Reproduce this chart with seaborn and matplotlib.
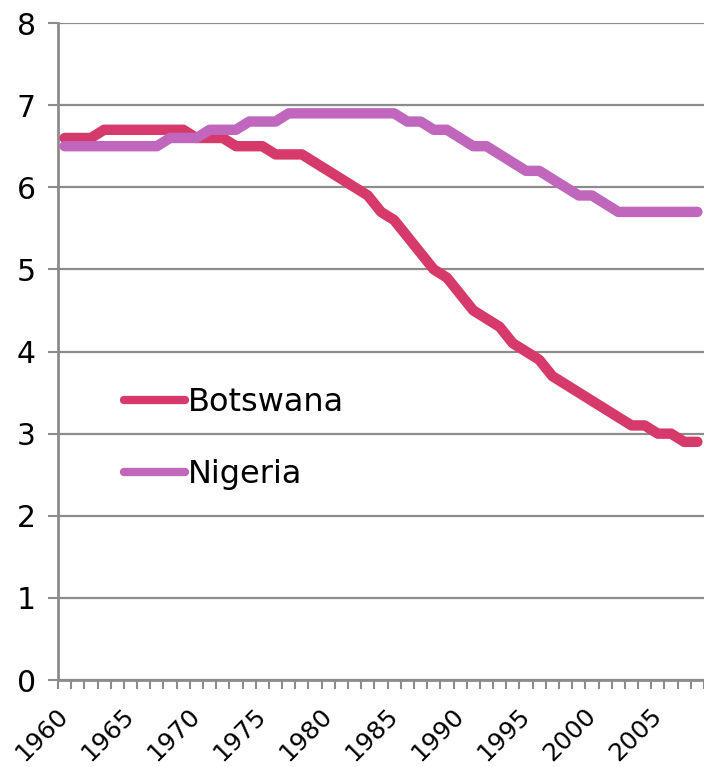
import numpy as np
import pandas as pd
import matplotlib
matplotlib.use("Agg")
import matplotlib.pyplot as plt
import seaborn as sns

# ── DATA ─────────────────────────────────────────────────
years = list(range(1960, 2009))

botswana = [6.6, 6.6, 6.6, 6.7, 6.7, 6.7, 6.7, 6.7, 6.7, 6.7,
            6.6, 6.6, 6.6, 6.5, 6.5, 6.5, 6.4, 6.4, 6.4, 6.3,
            6.2, 6.1, 6.0, 5.9, 5.7, 5.6, 5.4, 5.2, 5.0, 4.9,
            4.7, 4.5, 4.4, 4.3, 4.1, 4.0, 3.9, 3.7, 3.6, 3.5,
            3.4, 3.3, 3.2, 3.1, 3.1, 3.0, 3.0, 2.9, 2.9]

nigeria = [6.5, 6.5, 6.5, 6.5, 6.5, 6.5, 6.5, 6.5, 6.6, 6.6,
           6.6, 6.7, 6.7, 6.7, 6.8, 6.8, 6.8, 6.9, 6.9, 6.9,
           6.9, 6.9, 6.9, 6.9, 6.9, 6.9, 6.8, 6.8, 6.7, 6.7,
           6.6, 6.5, 6.5, 6.4, 6.3, 6.2, 6.2, 6.1, 6.0, 5.9,
           5.9, 5.8, 5.7, 5.7, 5.7, 5.7, 5.7, 5.7, 5.7]

countries = ["Botswana", "Nigeria"]
colors = ["#D63A6A", "#C066BC"]
year_labels = [str(y) for y in range(1960, 2009, 5)]
y_ticks = list(range(0, 9))

df = pd.DataFrame({
    "year": years * 2,
    "value": botswana + nigeria,
    "country": ["Botswana"] * len(years) + ["Nigeria"] * len(years),
})

# ── PLOT ─────────────────────────────────────────────────
sns.set_theme(style="white")
plt.rcParams["font.family"] = ["DejaVu Sans"]
plt.rcParams["text.color"] = "black"
plt.rcParams["xtick.labelcolor"] = "black"
plt.rcParams["ytick.labelcolor"] = "black"

fig = plt.figure(figsize=(7.04, 7.67), dpi=100)
ax = fig.add_axes([0.0824, 0.1134, 0.9176, 0.8566])

sns.lineplot(data=df, x="year", y="value", hue="country",
             hue_order=countries, palette=colors, linewidth=7.5,
             ax=ax, zorder=3)
for line in ax.get_lines():
    line.set_solid_capstyle("round")
    line.set_solid_joinstyle("round")

grid_col = "#8C8C8C"
ax.set_xlim(1959.5, 2008.5)
ax.set_ylim(0, 8)
ax.set_yticks(y_ticks)
ax.set_yticklabels([str(v) for v in y_ticks])
ax.yaxis.grid(True, color=grid_col, linewidth=1.6)
ax.set_axisbelow(True)

ax.set_xticks(range(1960, 2009, 5))
ax.set_xticklabels(year_labels, rotation=45, ha="right", va="center",
                   rotation_mode="anchor")
ax.set_xticks(np.arange(1959.5, 2009, 1), minor=True)
ax.tick_params(axis="x", which="major", length=0, pad=23, labelsize=18)
ax.tick_params(axis="x", which="minor", length=6.5, width=1.5,
               color=grid_col, bottom=True)
ax.tick_params(axis="y", length=7, width=1.5, color=grid_col,
               pad=9, labelsize=21.5, left=True)

for side in ["top", "right"]:
    ax.spines[side].set_visible(False)
for side in ["left", "bottom"]:
    ax.spines[side].set_color(grid_col)
    ax.spines[side].set_linewidth(2)

ax.set_xlabel("")
ax.set_ylabel("")

leg = ax.legend(frameon=False, loc="upper left",
                bbox_to_anchor=(0.058, 0.49), fontsize=23,
                handlelength=1.9, handletextpad=0.1, labelspacing=1.28)
for h in leg.get_lines():
    h.set_linewidth(6)

fig.savefig("out.png", dpi=100)
